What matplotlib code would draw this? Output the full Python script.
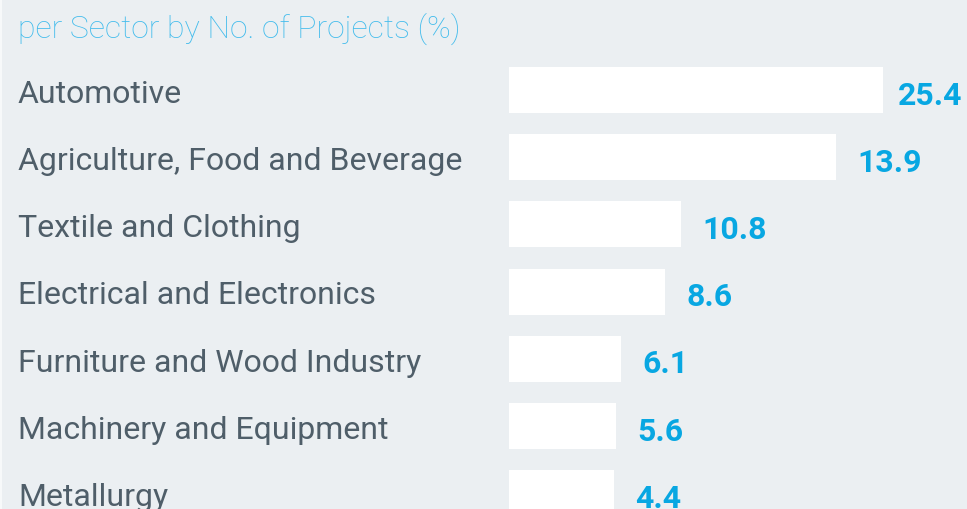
import matplotlib.pyplot as plt
from matplotlib.patches import Rectangle

# Sector data (values as printed, bar lengths, relative to the longest)
sectors = ['Automotive', 'Agriculture, Food and Beverage', 'Textile and Clothing',
           'Electrical and Electronics', 'Furniture and Wood Industry',
           'Machinery and Equipment', 'Metallurgy']
values = [25.4, 13.9, 10.8, 8.6, 6.1, 5.6, 4.4]
bar_lengths = [1.0, 0.874, 0.460, 0.417, 0.299, 0.286, 0.281]
title = 'per Sector by No. of Projects (%)'

bg = '#ebeff2'
label_color = '#4f5e69'
value_color = '#08a7e2'
title_color = '#43bcec'

plt.rcParams['font.family'] = ['Roboto', 'DejaVu Sans']

fig = plt.figure(figsize=(9.67, 5.10), dpi=100, facecolor=bg)
# thin lighter strip on the far left edge
fig.patches.append(Rectangle((0, 0), 2 / 967, 1, transform=fig.transFigure,
                             facecolor='#f7f9fa', edgecolor='none'))

# axes starts where the bars start and runs to the right edge
ax = fig.add_axes([509 / 967, 0, 458 / 967, 1])
ax.patch.set_alpha(0)

ypos = list(range(len(sectors)))
ax.barh(ypos, bar_lengths, height=0.684, color='white', left=0)
ax.set_xlim(0, 458 / 374)
ax.set_ylim((510 - 91) / 67.2, -91 / 67.2)
ax.axis('off')

for y, name, v, w in zip(ypos, sectors, values, bar_lengths):
    ax.annotate(name, xy=(18 / 967, y), xycoords=('figure fraction', 'data'),
                xytext=(0, -8.5), textcoords='offset points',
                ha='left', va='baseline', fontsize=23, color=label_color)
    if w > 0.95:
        # no room for the usual gap: keep the label inside the right edge
        ax.annotate(f'{v:.1f}', xy=(1, y), xycoords=('axes fraction', 'data'),
                    xytext=(-3.5, -9.8), textcoords='offset points',
                    ha='right', va='baseline', fontsize=23, fontweight='bold',
                    color=value_color, annotation_clip=False)
    else:
        ax.annotate(f'{v:.1f}', xy=(w, y), xytext=(15.5, -9.8), textcoords='offset points',
                    ha='left', va='baseline', fontsize=23, fontweight='bold',
                    color=value_color, annotation_clip=False)

fig.text(18 / 967, 1 - 38 / 510, title, ha='left', va='baseline',
         fontsize=23, fontweight='light', color=title_color)

fig.savefig('out.png', dpi=100, facecolor=bg)
